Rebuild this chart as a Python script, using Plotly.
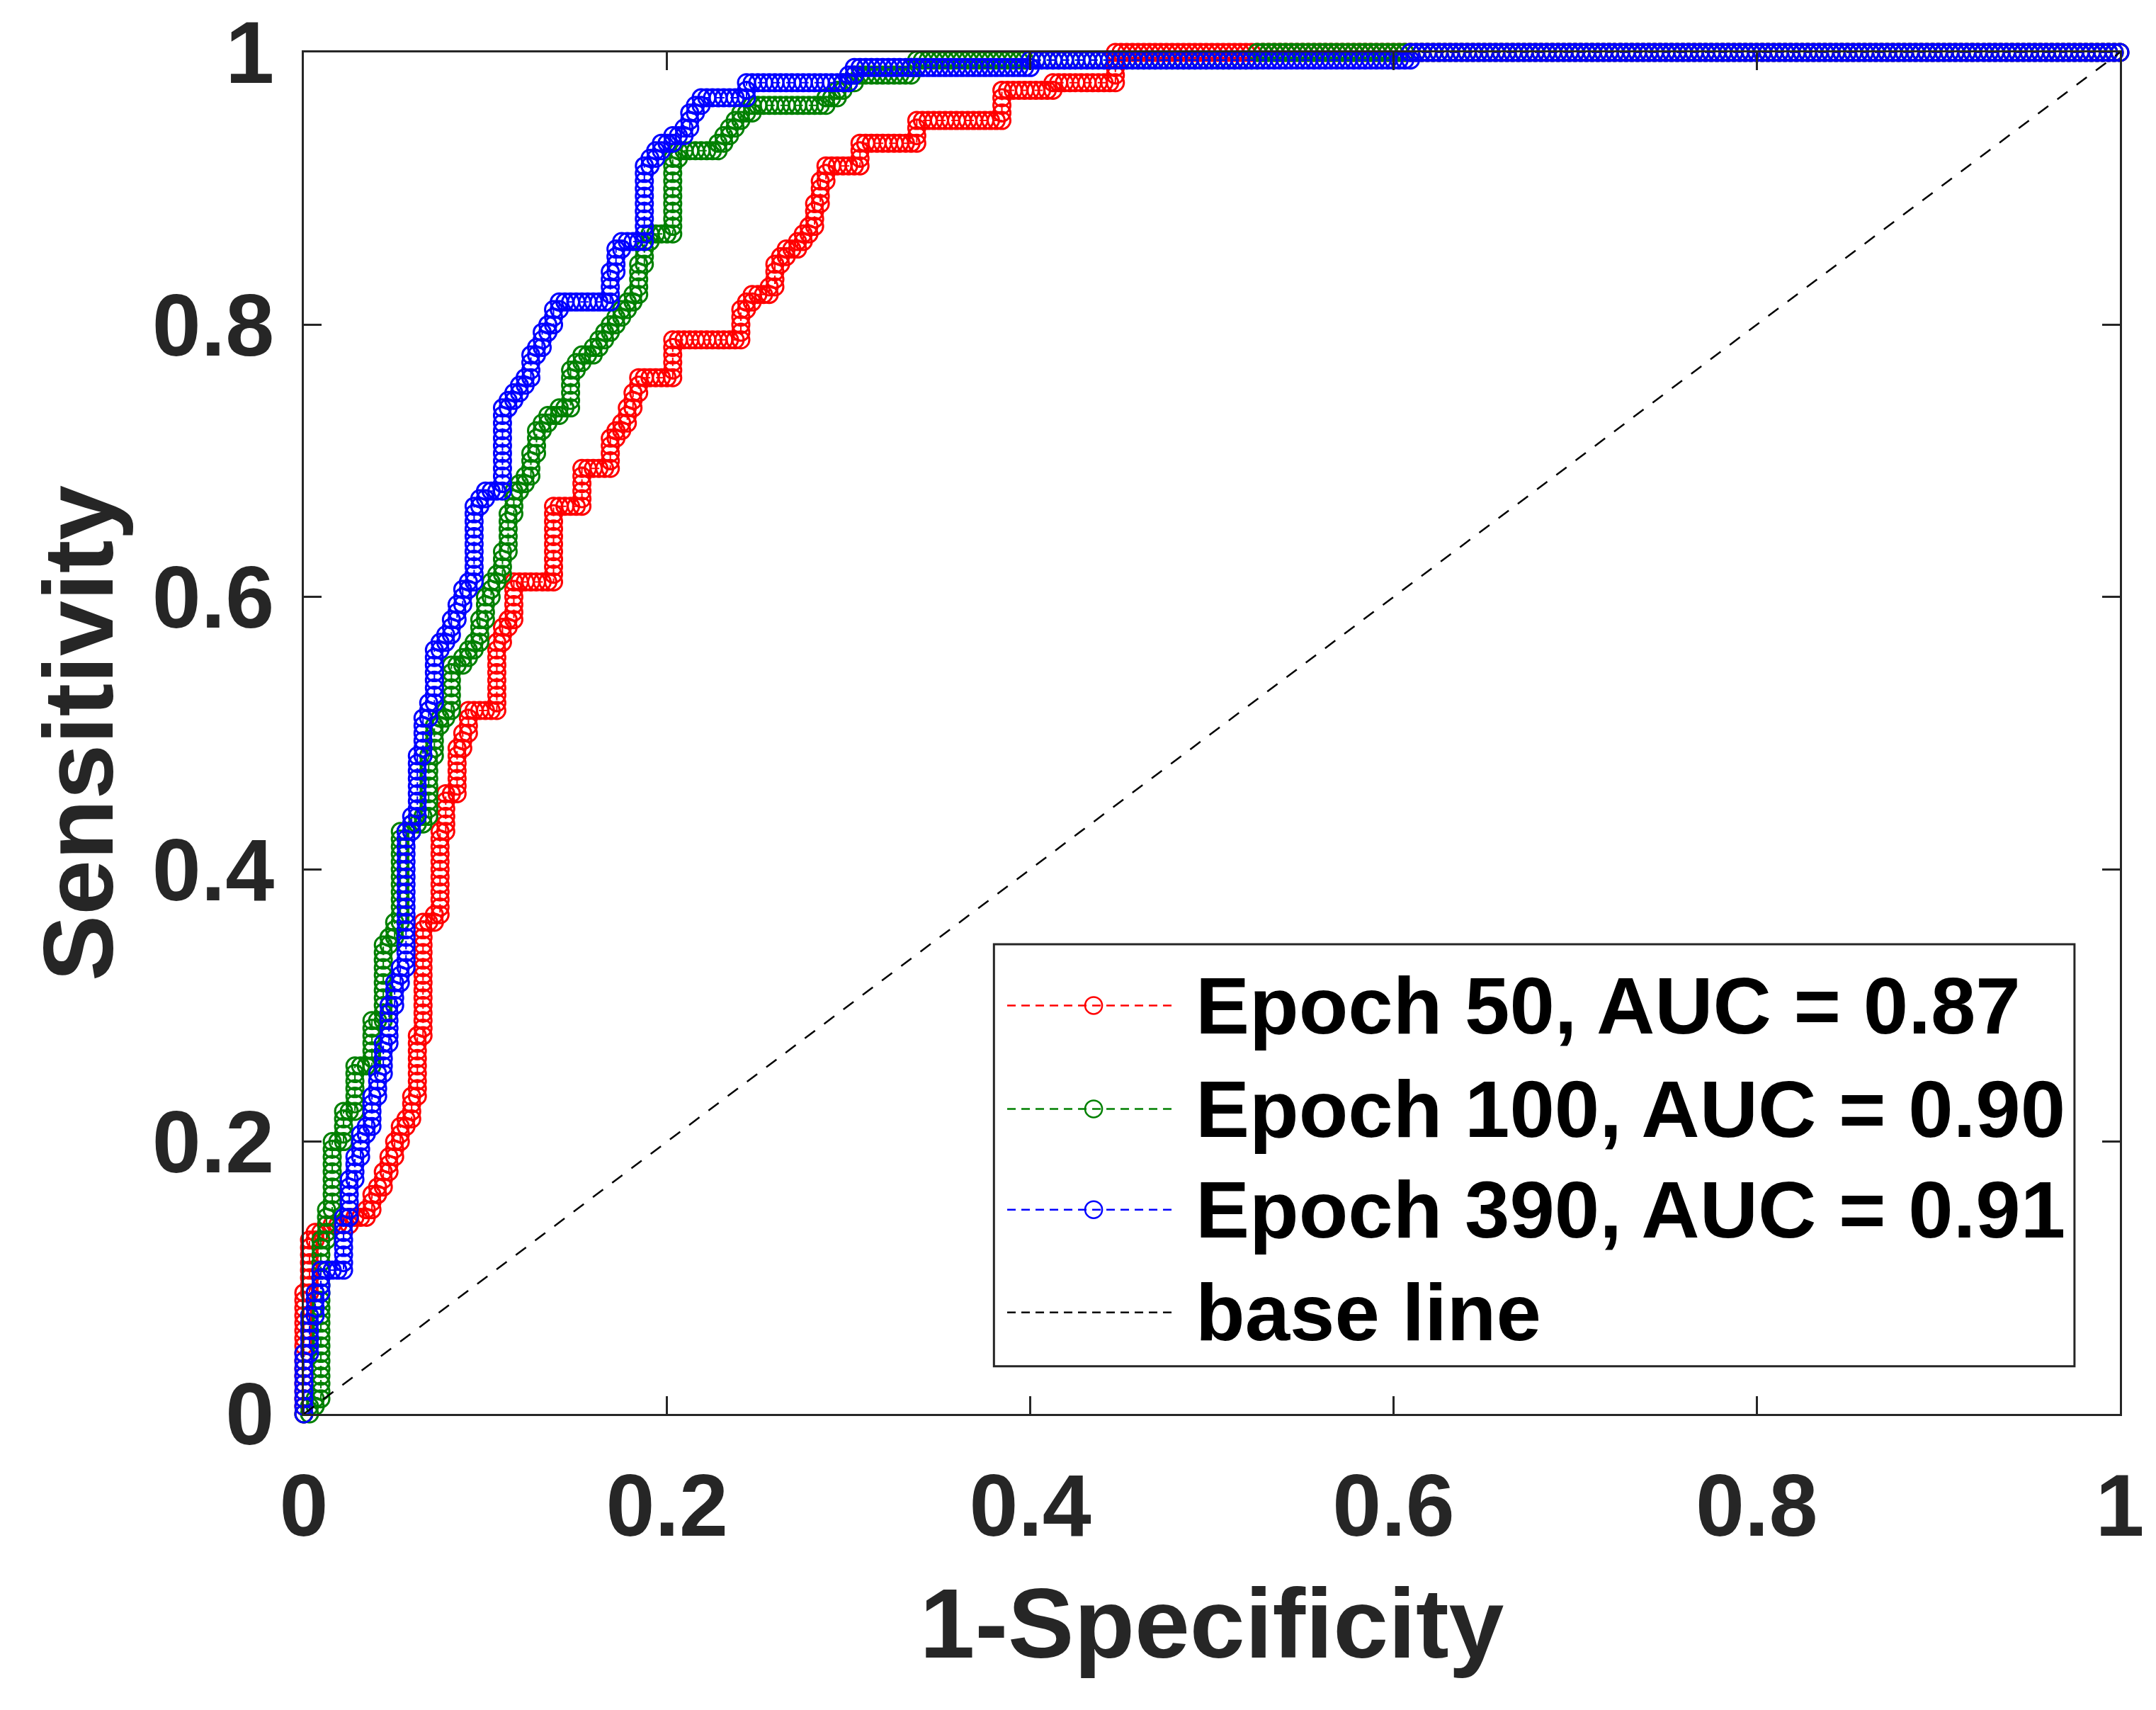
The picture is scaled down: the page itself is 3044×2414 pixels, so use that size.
import numpy as np
import plotly.graph_objects as go

# number of negative / positive samples in the test set
N_NEG = 320
N_POS = 180

# ROC staircase corners (1-specificity, sensitivity)
red_x = [0, 0.0015, 0.002, 0.007, 0.007, 0.02, 0.032, 0.038, 0.043, 0.047, 0.050, 0.054, 0.058,
         0.0615, 0.064, 0.0667, 0.0667, 0.0745, 0.0745, 0.078, 0.078, 0.084, 0.085, 0.089, 0.091,
         0.0914, 0.102, 0.106, 0.106, 0.108, 0.116, 0.116, 0.138, 0.139, 0.152, 0.154, 0.154,
         0.168, 0.1695, 0.1733, 0.177, 0.180, 0.183, 0.202, 0.203, 0.2045, 0.242, 0.242, 0.249,
         0.259, 0.259, 0.263, 0.270, 0.278, 0.284, 0.287, 0.305, 0.305, 0.338, 0.338, 0.383,
         0.383, 0.414, 0.414, 0.446, 0.446, 1.0]
red_y = [0, 0.05, 0.126, 0.127, 0.135, 0.138, 0.1425, 0.154, 0.171, 0.183, 0.197, 0.209, 0.219,
         0.25, 0.272, 0.283, 0.362, 0.368, 0.423, 0.431, 0.456, 0.457, 0.483, 0.492, 0.504,
         0.515, 0.515, 0.525, 0.562, 0.58, 0.581, 0.609, 0.609, 0.665, 0.668, 0.685, 0.695,
         0.695, 0.715, 0.725, 0.735, 0.745, 0.76, 0.763, 0.783, 0.791, 0.791, 0.811, 0.823,
         0.829, 0.845, 0.85, 0.856, 0.868, 0.893, 0.914, 0.914, 0.933, 0.933, 0.952, 0.952,
         0.972, 0.972, 0.980, 0.980, 1.0, 1.0]

green_x = [0, 0.007, 0.009, 0.010, 0.012, 0.017, 0.017, 0.021, 0.021, 0.027, 0.028, 0.036, 0.039,
           0.043, 0.044, 0.044, 0.050, 0.053, 0.054, 0.065, 0.068, 0.070, 0.0716, 0.0756, 0.080,
           0.082, 0.090, 0.098, 0.1005, 0.103, 0.1057, 0.108, 0.111, 0.116, 0.124, 0.127, 0.135,
           0.147, 0.147, 0.155, 0.160, 0.166, 0.171, 0.179, 0.184, 0.186, 0.194, 0.202, 0.203,
           0.207, 0.229, 0.242, 0.251, 0.284, 0.290, 0.296, 0.305, 0.335, 0.338, 0.526, 0.526, 1.0]
green_y = [0, 0.003, 0.02, 0.11, 0.152, 0.155, 0.2, 0.202, 0.221, 0.222, 0.256, 0.258, 0.288,
           0.29, 0.318, 0.345, 0.357, 0.367, 0.428, 0.435, 0.452, 0.47, 0.501, 0.513, 0.52,
           0.549, 0.558, 0.57, 0.596, 0.605, 0.614, 0.622, 0.652, 0.67, 0.695, 0.719, 0.735,
           0.737, 0.769, 0.775, 0.785, 0.795, 0.805, 0.815, 0.827, 0.863, 0.865, 0.866, 0.924,
           0.928, 0.929, 0.955, 0.96, 0.96, 0.969, 0.98, 0.982, 0.982, 0.994, 0.994, 1.0, 1.0]

blue_x = [0, 0.0, 0.0043, 0.0069, 0.008, 0.008, 0.023, 0.023, 0.025, 0.026, 0.028, 0.030, 0.035,
          0.038, 0.0394, 0.043, 0.046, 0.0498, 0.052, 0.056, 0.0576, 0.060, 0.0628, 0.064, 0.065,
          0.068, 0.072, 0.073, 0.0797, 0.0836, 0.086, 0.094, 0.0953, 0.0953, 0.1005, 0.1096,
          0.1096, 0.113, 0.121, 0.125, 0.130, 0.137, 0.141, 0.168, 0.170, 0.173, 0.175, 0.186,
          0.187, 0.190, 0.197, 0.210, 0.216, 0.218, 0.245, 0.245, 0.299, 0.302, 0.400, 0.400,
          0.608, 0.608, 1.0]
blue_y = [0, 0.028, 0.064, 0.08, 0.099, 0.105, 0.105, 0.142, 0.147, 0.171, 0.176, 0.2, 0.21,
          0.219, 0.25, 0.257, 0.29, 0.314, 0.316, 0.345, 0.426, 0.431, 0.444, 0.457, 0.509,
          0.518, 0.53, 0.561, 0.574, 0.593, 0.601, 0.614, 0.622, 0.66, 0.677, 0.68,
          0.736, 0.745, 0.755, 0.771, 0.789, 0.803, 0.817, 0.817, 0.835, 0.851, 0.863, 0.863,
          0.91, 0.922, 0.934, 0.94, 0.961, 0.965, 0.965, 0.975, 0.975, 0.988, 0.988, 0.994,
          0.994, 1.0, 1.0]

labels = ["Epoch 50, AUC = 0.87", "Epoch 100, AUC = 0.90", "Epoch 390, AUC = 0.91", "base line"]
colors = ["rgb(255,0,0)", "rgb(0,128,0)", "rgb(0,0,255)", "black"]
tick_vals = [0, 0.2, 0.4, 0.6, 0.8, 1]
tick_text = ["0", "0.2", "0.4", "0.6", "0.8", "1"]


def roc_points(xs, ys):
    # one point per sample: walk the staircase one negative / positive at a time
    fp = np.maximum.accumulate(np.rint(np.array(xs) * N_NEG).astype(int))
    tp = np.maximum.accumulate(np.rint(np.array(ys) * N_POS).astype(int))
    px, py = [fp[0]], [tp[0]]
    for i in range(1, len(fp)):
        df, dt = fp[i] - fp[i - 1], tp[i] - tp[i - 1]
        n = df + dt
        for k in range(1, n + 1):
            f = int(np.floor(df * k / n + 0.5))
            px.append(fp[i - 1] + f)
            py.append(tp[i - 1] + k - f)
    return np.array(px) / N_NEG, np.array(py) / N_POS


FONT = "Liberation Sans"
AX = "#262626"

fig = go.Figure()

for xs, ys, name, col in zip([red_x, green_x, blue_x], [red_y, green_y, blue_y], labels[:3], colors[:3]):
    px, py = roc_points(xs, ys)
    fig.add_trace(go.Scatter(x=px, y=py, mode='lines+markers', name=name,
                             line=dict(color=col, width=2, dash='12px,8px'),
                             marker=dict(symbol='circle-open', size=24, color=col,
                                         line=dict(width=3, color=col)),
                             cliponaxis=False, showlegend=False))

fig.add_trace(go.Scatter(x=[0, 1], y=[0, 1], mode='lines', name=labels[3],
                         line=dict(color='black', width=2.5, dash='18px,16px'),
                         showlegend=False))

# legend drawn by hand so the sample lines are long like the original
lx0, lx1, ly0, ly1 = 0.380, 0.975, 0.035, 0.345
fig.add_shape(type='rect', xref='paper', yref='paper', x0=lx0, x1=lx1, y0=ly0, y1=ly1,
              line=dict(color=AX, width=3), fillcolor='white', layer='above')
row_y = [0.300, 0.224, 0.150, 0.0745]
for name, col, ry in zip(labels, colors, row_y):
    fig.add_shape(type='line', xref='paper', yref='paper', x0=0.3873, x1=0.4805, y0=ry, y1=ry,
                  line=dict(color=col, width=2.5, dash='12px,8px'), layer='above')
    if name != "base line":
        fig.add_shape(type='circle', xref='paper', yref='paper', xsizemode='pixel', ysizemode='pixel',
                      xanchor=0.4349, yanchor=ry, x0=-12, x1=12, y0=-12, y1=12,
                      line=dict(color=col, width=2.5), fillcolor='rgba(0,0,0,0)', layer='above')
    fig.add_annotation(x=0.4903, y=ry, xref='paper', yref='paper', text="<b>%s</b>" % name,
                       showarrow=False, xanchor='left', yanchor='middle',
                       font=dict(family=FONT, size=114, color='black'))

axis_style = dict(range=[0, 1], tickvals=tick_vals, ticktext=tick_text,
                  showline=True, linecolor=AX, linewidth=3, mirror='ticks',
                  ticks='inside', ticklen=25, tickwidth=3, tickcolor=AX,
                  showgrid=False, zeroline=False, ticklabeloverflow='allow',
                  automargin=False,
                  tickfont=dict(family=FONT, size=124, color=AX, weight='bold'))

# page body keeps an 8px margin, so the figure is 16px smaller than the window
fig.update_layout(
    width=3028, height=2398,
    margin=dict(l=421, r=43, t=66, b=410),
    plot_bgcolor='white', paper_bgcolor='white',
    xaxis=dict(axis_style, ticklabelstandoff=20,
               title=dict(text='1-Specificity', standoff=50,
                          font=dict(family=FONT, size=140, color=AX, weight='bold'))),
    yaxis=dict(axis_style, ticklabelstandoff=14,
               title=dict(text='Sensitivity', standoff=8,
                          font=dict(family=FONT, size=140, color=AX, weight='bold'))),
)

fig.write_html("out.html")
